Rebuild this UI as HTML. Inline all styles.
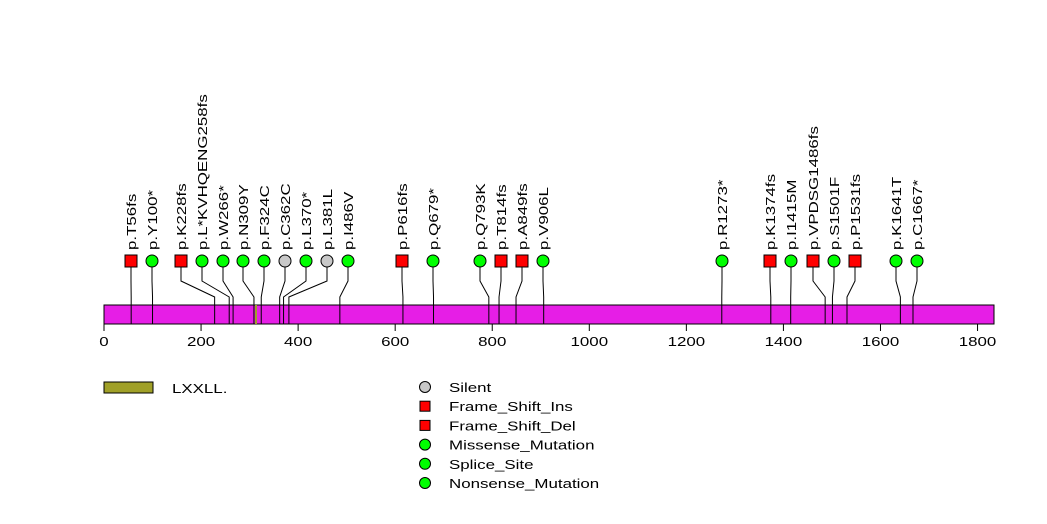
<!DOCTYPE html>
<html><head><meta charset="utf-8"><style>
html,body{margin:0;padding:0;background:#fff;}
svg{display:block;font-family:"Liberation Sans",sans-serif;}
</style></head><body>
<svg id="s" width="1047" height="524" xmlns="http://www.w3.org/2000/svg">
<rect x="104" y="305" width="890" height="19" fill="#E61EE6" stroke="#000" stroke-width="1"/>
<rect x="255" y="305" width="2" height="19" fill="#A0A028"/>
</svg>
<script>
var s=document.getElementById('s'),NS='http://www.w3.org/2000/svg';
function el(t,a,txt){var e=document.createElementNS(NS,t);for(var k in a)e.setAttribute(k,a[k]);if(txt)e.textContent=txt;s.appendChild(e);return e;}
function X(a){return 104+a*0.4853;}
var SC=1.3;
function ht(x,y,str,anchor){return el('text',{x:0,y:0,transform:'translate('+x+','+y+') scale('+SC+',1)','font-size':13,'text-anchor':anchor||'start'},str);}
var muts=[[131,56,'p.T56fs','r'],[152,100,'p.Y100*','g'],[181,228,'p.K228fs','r'],[202,258,'p.L*KVHQENG258fs','g'],[223,266,'p.W266*','g'],[243,309,'p.N309Y','g'],[264,324,'p.F324C','g'],[285,362,'p.C362C','s'],[306,370,'p.L370*','g'],[327,381,'p.L381L','s'],[348,486,'p.I486V','g'],[402,616,'p.P616fs','r'],[433,679,'p.Q679*','g'],[480,793,'p.Q793K','g'],[501,814,'p.T814fs','r'],[522,849,'p.A849fs','r'],[543,906,'p.V906L','g'],[722,1273,'p.R1273*','g'],[770,1374,'p.K1374fs','r'],[791,1415,'p.I1415M','g'],[813,1486,'p.VPDSG1486fs','r'],[834,1501,'p.S1501F','g'],[855,1531,'p.P1531fs','r'],[896,1641,'p.K1641T','g'],[917,1667,'p.C1667*','g']];
muts.forEach(function(m){var mx=m[0],bx=X(m[1]);
el('polyline',{points:mx+',261 '+mx+',281 '+bx+',297 '+bx+',324',fill:'none',stroke:'#000','stroke-width':1});});
muts.forEach(function(m){var mx=m[0];
if(m[3]=='r')el('rect',{x:mx-6,y:255,width:12,height:12,fill:'#FF0000',stroke:'#000'});
else el('circle',{cx:mx,cy:261,r:6,fill:m[3]=='g'?'#00FF00':'#C8C8C8',stroke:'#000'});
el('text',{x:0,y:0,transform:'translate('+(mx+5)+',250) rotate(-90) scale('+SC+',1)','font-size':13,fill:'#000'},m[2]);});
for(var v=0;v<=1800;v+=200){var x=X(v);el('line',{x1:x,y1:324,x2:x,y2:331,stroke:'#000'});ht(x,346,String(v),'middle');}
el('rect',{x:104,y:382,width:49,height:11,fill:'#A0A028',stroke:'#000'});
ht(172,393,'LXXLL.');
var L=[['s','Silent'],['r','Frame_Shift_Ins'],['r','Frame_Shift_Del'],['g','Missense_Mutation'],['g','Splice_Site'],['g','Nonsense_Mutation']];
L.forEach(function(l,i){var y=387+i*19.2;
if(l[0]=='r')el('rect',{x:420,y:y-5,width:10,height:10,fill:'#FF0000',stroke:'#000'});
else el('circle',{cx:425,cy:y,r:5.5,fill:l[0]=='g'?'#00FF00':'#C8C8C8',stroke:'#000'});
ht(449,y+5,l[1]);});
</script>
</body></html>
